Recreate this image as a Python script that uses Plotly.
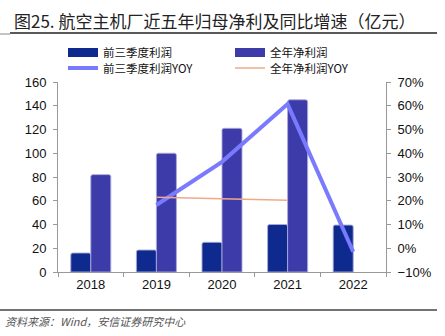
import plotly.graph_objects as go

years = ["2018", "2019", "2020", "2021", "2022"]
q3_profit = [16, 18.5, 25, 40, 39.5]
full_profit = [82, 100, 121, 145, None]
q3_yoy_years = ["2019", "2020", "2021", "2022"]
q3_yoy = [18.2, 36.4, 60.7, -1.5]
full_yoy_years = ["2019", "2020", "2021"]
full_yoy = [21.5, 21.0, 20.2]

names = ["前三季度利润", "全年净利润", "前三季度利润YOY", "全年净利润YOY"]
c_q3 = "#0e2a8e"
c_full = "#3d3aaa"
c_q3yoy = "#7a7aff"
c_fullyoy = "#f2a888"

FONT = "Liberation Sans, Arial, Noto Sans CJK SC, sans-serif"
CJK = "Noto Sans CJK SC, sans-serif"

fig = go.Figure()
fig.add_trace(go.Bar(x=years, y=q3_profit, name=names[0], marker=dict(color=c_q3, line=dict(color="rgba(170,170,215,0.9)", width=1)), showlegend=False))
fig.add_trace(go.Bar(x=years, y=full_profit, name=names[1], marker=dict(color=c_full, line=dict(color="rgba(170,170,215,0.9)", width=1)), showlegend=False))
fig.add_trace(go.Scatter(x=q3_yoy_years, y=q3_yoy, name=names[2], mode="lines", line=dict(color=c_q3yoy, width=4), yaxis="y2", showlegend=False))
fig.add_trace(go.Scatter(x=full_yoy_years, y=full_yoy, name=names[3], mode="lines", line=dict(color=c_fullyoy, width=1.5), yaxis="y2", showlegend=False))

# legend entries (one legend per entry for exact placement)
fig.add_trace(go.Scatter(x=[None], y=[None], name=names[0], mode="lines", line=dict(color=c_q3, width=9), legend="legend"))
fig.add_trace(go.Scatter(x=[None], y=[None], name=names[1], mode="lines", line=dict(color=c_full, width=9), legend="legend2"))
fig.add_trace(go.Scatter(x=[None], y=[None], name=names[2], mode="lines", line=dict(color=c_q3yoy, width=4), legend="legend3"))
fig.add_trace(go.Scatter(x=[None], y=[None], name=names[3], mode="lines", line=dict(color=c_fullyoy, width=1.5), legend="legend4"))

W, H = 445, 336
L, R, T, B = 58, 386, 82, 272

leg_common = dict(orientation="h", xanchor="left", yanchor="middle",
                  font=dict(family=CJK, size=11.5, color="#111"), bgcolor="rgba(0,0,0,0)", itemwidth=30,
                  tracegroupgap=0, itemclick=False, itemdoubleclick=False, xref="container", yref="container")

fig.update_layout(
    width=W, height=H,
    margin=dict(l=L, r=W - R, t=T, b=H - B, pad=0, autoexpand=False),
    paper_bgcolor="white", plot_bgcolor="white",
    barmode="group", bargap=0.39, bargroupgap=0, barcornerradius=2,
    font=dict(family=FONT, size=13, color="#111"),
    legend=dict(x=63 / W, y=1 - 52.5 / H, **leg_common),
    legend2=dict(x=230 / W, y=1 - 52.5 / H, **leg_common),
    legend3=dict(x=63 / W, y=1 - 68 / H, **leg_common),
    legend4=dict(x=230 / W, y=1 - 68 / H, **leg_common),
    xaxis=dict(type="category", showline=True, linecolor="#999", linewidth=1, ticks="outside",
               tickson="boundaries", ticklen=4, tickcolor="#999", showgrid=False,
               tickfont=dict(size=13, family=FONT, color="#111")),
    yaxis=dict(range=[0, 160], dtick=20, showline=True, linecolor="#999", linewidth=1, ticks="outside",
               ticklen=4, tickcolor="#999", showgrid=False, zeroline=False,
               tickfont=dict(size=13, family=FONT, color="#111"), ticklabelstandoff=4),
    yaxis2=dict(range=[-10, 70], dtick=10, overlaying="y", side="right", ticksuffix="%", showline=True,
                linecolor="#999", linewidth=1, ticks="outside", ticklen=4, tickcolor="#999", showgrid=False,
                zeroline=False, tickfont=dict(size=13, family=FONT, color="#111"), ticklabelstandoff=4),
    showlegend=True,
)
fig.update_layout(xaxis_autotickangles=[0])


def px_x(p):
    return (p - L) / (R - L)


def px_y(p):
    return (B - p) / (B - T)


# title and source
fig.add_annotation(text="图25. 航空主机厂近五年归母净利及同比增速（亿元）", xref="paper", yref="paper",
                   x=px_x(12), y=px_y(20), xanchor="left", yanchor="middle",
                   showarrow=False, font=dict(family=CJK, size=17, color="#222"))
fig.add_annotation(text="<i>资料来源：Wind，安信证券研究中心</i>", xref="paper", yref="paper",
                   x=px_x(3), y=px_y(321), xanchor="left", yanchor="middle",
                   showarrow=False, font=dict(family=CJK, size=11, color="#555"))

fig.add_shape(type="line", xref="paper", yref="paper", x0=px_x(10), x1=px_x(437), y0=px_y(33), y1=px_y(33),
              line=dict(color="#222", width=1.5))
fig.add_shape(type="line", xref="paper", yref="paper", x0=px_x(0), x1=px_x(10), y0=px_y(34), y1=px_y(34),
              line=dict(color="#888", width=1))
fig.add_shape(type="line", xref="paper", yref="paper", x0=px_x(0), x1=px_x(437), y0=px_y(310), y1=px_y(310),
              line=dict(color="#444", width=1.5))

fig.write_html("out.html")
